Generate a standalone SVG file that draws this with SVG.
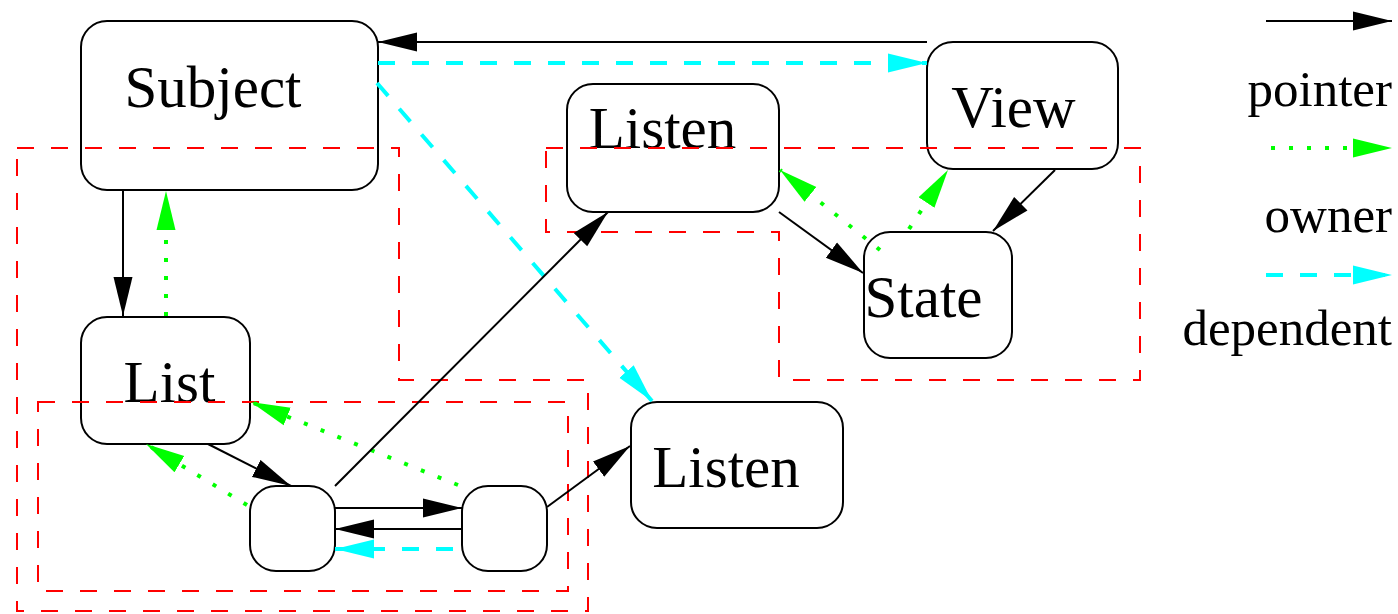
<svg xmlns="http://www.w3.org/2000/svg" width="1398" height="614" viewBox="0 0 1398 614">
<style>
.node rect{fill:#fff;stroke:#000;stroke-width:2}
.node text{font-family:"Liberation Serif","Times New Roman",serif;font-size:59px;fill:#000;text-anchor:middle}
.legend text{font-family:"Liberation Serif","Times New Roman",serif;font-size:51px;fill:#000;text-anchor:end}
.group{fill:none;stroke:#ff0000;stroke-width:2;stroke-dasharray:17 17}
.ptr{stroke:#000;stroke-width:2;fill:none;marker-end:url(#hb)}
.own{stroke:#00ff00;stroke-width:4;fill:none;stroke-dasharray:4 14;marker-end:url(#hg)}
.dep{stroke:#00ffff;stroke-width:4;fill:none;stroke-dasharray:17 17;marker-end:url(#hc)}
</style>
<defs>
<marker id="hb" markerUnits="userSpaceOnUse" markerWidth="40" markerHeight="21" refX="39" refY="10" orient="auto"><path d="M0,0.5 L39,10 L0,19.5 z" fill="#000"/></marker>
<marker id="hg" markerUnits="userSpaceOnUse" markerWidth="40" markerHeight="21" refX="39" refY="10" orient="auto"><path d="M0,0.5 L39,10 L0,19.5 z" fill="#00ff00"/></marker>
<marker id="hc" markerUnits="userSpaceOnUse" markerWidth="40" markerHeight="21" refX="39" refY="10" orient="auto"><path d="M0,0.5 L39,10 L0,19.5 z" fill="#00ffff"/></marker>
</defs>
<rect width="1398" height="614" fill="#fff"/>
<g id="nodes">
<g id="subject" class="node"><rect x="81" y="21" width="297" height="169" rx="26"/><text x="213" y="107">Subject</text></g>
<g id="view" class="node"><rect x="927" y="42" width="191" height="127" rx="26"/><text x="1013.5" y="127">View</text></g>
<g id="listen1" class="node"><rect x="567" y="84" width="212" height="128" rx="26"/><text x="662.5" y="148">Listen</text></g>
<g id="state" class="node"><rect x="864" y="232" width="148" height="126" rx="26"/><text x="923.5" y="317">State</text></g>
<g id="list" class="node"><rect x="81" y="317" width="169" height="127" rx="26"/><text x="169.5" y="402">List</text></g>
<g id="listen2" class="node"><rect x="631" y="402" width="212" height="126" rx="26"/><text x="726" y="487">Listen</text></g>
<g id="itemA" class="node"><rect x="250" y="486" width="85" height="85" rx="26"/></g>
<g id="itemB" class="node"><rect x="462" y="486" width="85" height="85" rx="26"/></g>
</g>
<g id="groups">
<path class="group" d="M17,148 H399 V380 H588 V611 H17 Z"/>
<path class="group" d="M546,148 H1140 V380 H779 V232 H546 Z"/>
<path class="group" d="M38,402 H568 V591 H38 Z"/>
</g>
<g id="connectors">
<line class="ptr" x1="927" y1="42" x2="378" y2="42"/>
<line class="dep" x1="378" y1="63" x2="927" y2="63"/>
<line class="dep" x1="377" y1="83" x2="652" y2="401"/>
<line class="ptr" x1="123" y1="190" x2="123" y2="316"/>
<line class="own" x1="166" y1="316" x2="166" y2="191"/>
<line class="ptr" x1="208" y1="444" x2="291" y2="486"/>
<line class="own" x1="247" y1="505" x2="146" y2="444"/>
<line class="own" x1="458" y1="485" x2="251" y2="402"/>
<line class="ptr" x1="335" y1="508" x2="462" y2="508"/>
<line class="ptr" x1="462" y1="529" x2="335" y2="529"/>
<line class="dep" x1="453" y1="549" x2="335" y2="549"/>
<line class="ptr" x1="335" y1="486" x2="608" y2="212"/>
<line class="ptr" x1="547" y1="507" x2="630" y2="446"/>
<line class="ptr" x1="779" y1="212" x2="863" y2="273"/>
<line class="own" x1="880" y1="250" x2="780" y2="170"/>
<line class="own" x1="909" y1="229" x2="948" y2="170"/>
<line class="ptr" x1="1055" y1="170" x2="993" y2="231"/>
</g>
<g id="legend" class="legend">
<line class="ptr" x1="1266" y1="21" x2="1392" y2="21"/>
<text x="1392" y="106">pointer</text>
<line class="own" x1="1271" y1="148" x2="1392" y2="148"/>
<text x="1392" y="232">owner</text>
<line class="dep" x1="1266" y1="275" x2="1392" y2="275"/>
<text x="1392" y="345">dependent</text>
</g>
</svg>
